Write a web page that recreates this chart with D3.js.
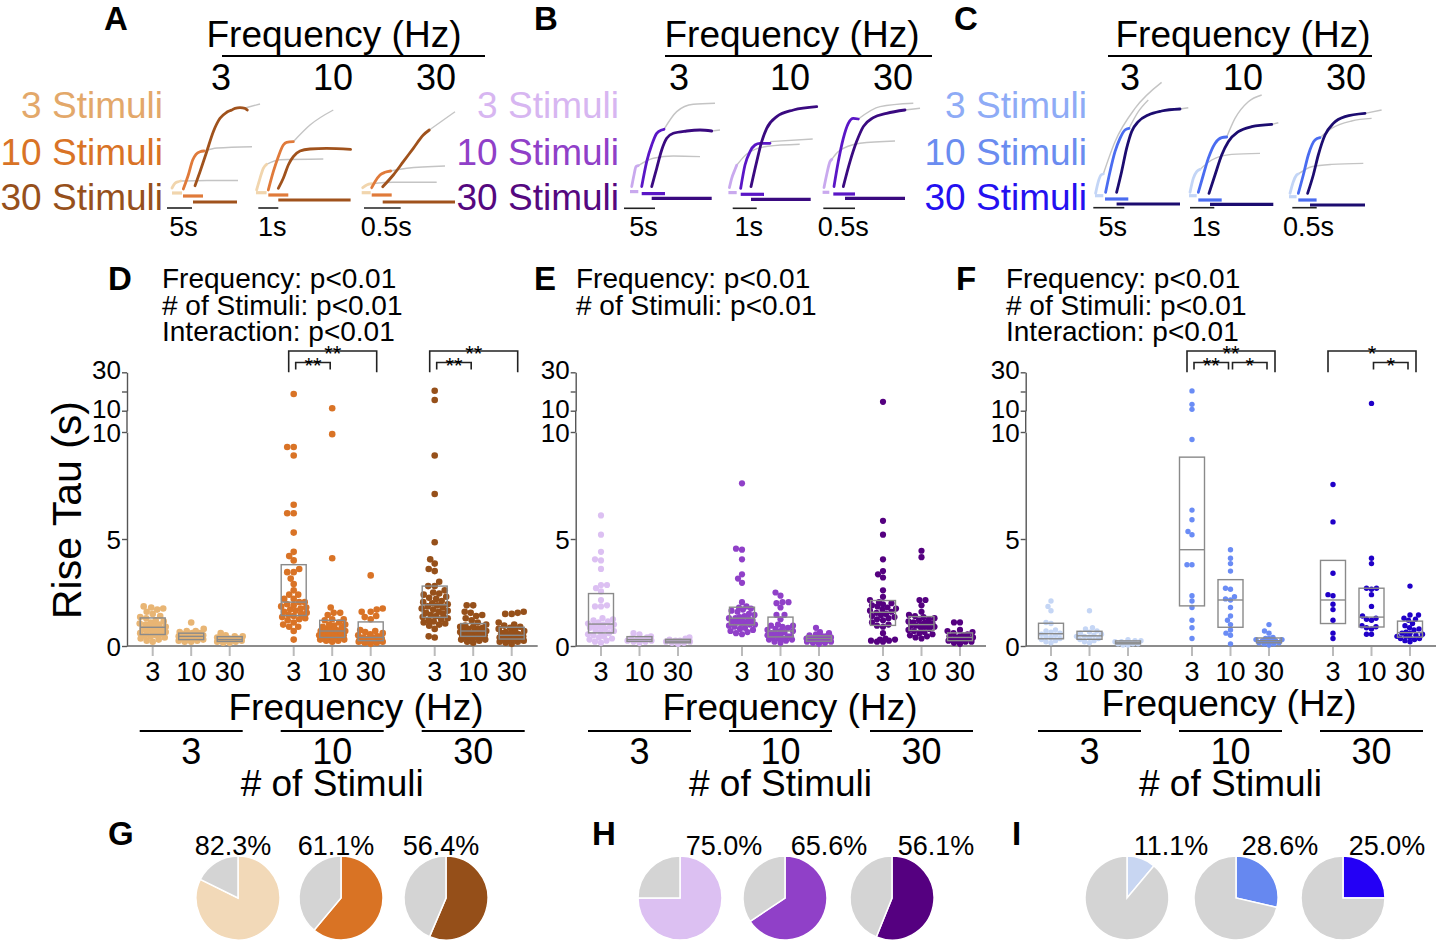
<!DOCTYPE html>
<html><head><meta charset="utf-8">
<script src="https://cdn.jsdelivr.net/npm/d3@7"></script>
<style>body{margin:0;background:#fff} svg{display:block} text{font-family:"Liberation Sans",Arial,sans-serif}</style>
</head><body><svg id="c" width="1438" height="942"></svg>
<script>
// ---------------- DATA ----------------
const stimuli = ["3","10","30"];
const freqs = ["3","10","30"];
const stimLabels = ["3 Stimuli","10 Stimuli","30 Stimuli"];
const scaleBarLabels = ["5s","1s","0.5s"];

// Example traces (time units, amplitude units), per frequency sub-panel, per stimulus count
const scaleLenA = [25, 20, 36.7];
const scaleLenB = [31, 24, 31.7];
const scaleLenC = [31, 24.3, 24.4];
const barsA = [
  [[5,15,15],[16,36,12],[26,70,6]],
  [[-2.3,8.3,15.3],[10,30,13],[20,92.3,8]],
  [[-2.3,6.7,15.3],[7.7,27.7,13],[18.7,91,6]]
];
const riseA = [
  [[[5,20],[8,24.7],[11.3,26.3],[13.7,27]],
   [[16.3,19],[21.3,33],[25.7,48],[29,53.7],[33,56.3],[37,57]],
   [[28,22.3],[33,36.3],[39.7,56.3],[46.3,76.3],[53,89.7],[59.7,95.7],[64.7,98],[68,99.7],[73,100.3],[78,99.7],[80.3,98]]],
  [[[-1.7,18],[1.7,29.7],[5,39.7],[8.3,43.7]],
   [[10,18],[15,36.3],[20,51.3],[25,63],[28.3,65.7],[35,66.3]],
   [[20,19.7],[25,29.7],[30,43],[35,51.3],[41.7,57],[51.7,59],[68.3,59.7],[92.3,58.7]]],
  [[[-1.3,20.3],[2.7,23],[7.7,24.3]],
   [[7.7,20.3],[11,26.3],[16,33],[21,35.7],[26.7,37]],
   [[18.7,21.3],[29.3,33],[39.3,46.3],[49.3,59.7],[59.3,73],[65.3,78]]]
];
const fitA = [
  [[[13.7,27],[40,27.5],[71,27.5]], [[37,57],[50,60],[85,61.3]], [[78,100],[93,104]]],
  [[[8.3,43.7],[21.7,48.3],[65,49]], [[35,66.3],[51.7,83],[75,98]], []],
  [[[7.7,24.3],[29.3,25.7],[72.7,25.7]], [[26.7,37],[42.7,39.7],[81,42]], [[65.3,78],[91,96.3]]]
];
const barsB = [
  [[6,14.3,16.7],[17.7,41,14.7],[27.7,87.7,10]],
  [[-4.3,4,15.7],[8,31.3,14],[18.3,78,9]],
  [[-0.7,6,16],[10,31.7,14.3],[21.7,81.7,10]]
];
const riseB = [
  [[[7.7,21.7],[10,33.3],[12,41.7],[14.3,42.7]],
   [[17.7,21.7],[22.7,46.7],[27.7,63.3],[32.7,75],[37.7,78.3],[40,79]],
   [[27.7,21.7],[32.7,40],[37.7,58.3],[42.7,70],[49.3,75],[62.7,77.3],[76,78.3],[87.7,77.3]]],
  [[[-3.3,20.7],[-1,30],[2,38],[4,43]],
   [[8,20],[12.3,43.3],[17.3,56.7],[22.3,63.3],[27.3,65],[37.3,65]],
   [[18.3,21.7],[24,46.7],[29,66.7],[34,80],[44,91.7],[60.7,98.3],[84,101.7]]],
  [[[0.7,20.7],[3.3,33.3],[6.7,46.7],[8.5,49]],
   [[10.7,21.7],[15,46.7],[20,70],[25,85],[30,90],[35,89.3]],
   [[20,21.7],[26.7,46.7],[33.3,66.7],[40,81.7],[50,90.7],[63.3,95],[81.7,98.3]]]
];
const fitB = [
  [[[14.3,42.7],[29.3,50],[49.3,52.3],[76,51.7]], [[40,79],[52.7,96.7],[69.3,104],[91,105]], [[87.7,77.3],[96,78.3]]],
  [[[4,43],[15,55],[35,62],[67,64]], [[37.3,66.7],[80,69.3]], []],
  [[[8.5,49],[15,56.7],[36.7,65],[71.7,67.3]], [[35,89.3],[56.7,101.7],[90,105]], [[81.7,98.3],[96.7,100]]]
];
const barsC = [
  [[1.7,10,12],[11.7,35,8.7],[23.3,86.7,3.7]],
  [[-1,6.7,12],[8.3,31.7,7.7],[20,83.3,3.3]],
  [[-3.3,4.3,11],[6,24.3,7.7],[17.7,72.7,2.7]]
];
const riseC = [
  [[[2.3,14.3],[5,26],[7.7,32.7],[10,33.7]],
   [[12.3,15.3],[16.7,36],[21.7,56],[26.7,69.3],[31.7,77.7],[35.7,79.3]],
   [[23.3,15.3],[28.3,36],[33.3,59.3],[38.3,76],[45,86],[55,92.7],[68.3,96.7],[86.7,98.7]]],
  [[[0,15.3],[3.3,29.3],[6.7,36],[10,38.3]],
   [[8.3,15.3],[13.3,32.7],[18.3,49.3],[25,64.3],[31.7,70],[36.7,70.7]],
   [[19,14.3],[25,32.7],[31.7,52.7],[38.3,66],[48.3,76],[61.7,81],[81.7,83.3]]],
  [[[-2.3,14.3],[1,26],[4.3,32.7],[6,33.7]],
   [[6,14.3],[11,32.7],[16,52.7],[22.7,67.7],[27.7,70]],
   [[15.3,14.3],[21,32.7],[26,52.7],[32.7,72.7],[41,84.3],[52.7,91],[72.7,94.3]]]
];
const fitC = [
  [[[10,33.7],[21.7,66],[41.7,99.3],[68.3,125.3]], [[35.7,79.3],[45,96],[55,107.7]], [[86.7,98.7],[95,100]]],
  [[[10,38.3],[21.7,47.7],[41.7,53.3],[70,54.3]], [[36.7,70.7],[45,89.3],[58.3,106],[71.7,112.7]], [[81.7,83.3],[88.3,85]]],
  [[[6,33.7],[19.3,41],[39.3,43.3],[71,44.3]], [[27.7,70],[39.3,79.3],[59.3,86.7],[79.3,89.3]], [[72.7,94.3],[89.3,97.7]]]
];

// Rise tau (s): [3 Hz, 10 Hz, 30 Hz] for each stimulus count
const tauD_stim3 = [
  [1.85,1.8,1.75,1.7,1.6,1.5,1.4,1.35,1.3,1.2,1.15,1.1,1.05,1.0,1.0,0.95,0.9,0.85,0.8,0.8,0.75,0.7,0.7,0.65,0.6,0.55,0.5,0.5,0.45,0.4,0.35,0.3,0.25,0.2],
  [1.1,0.8,0.7,0.7,0.65,0.6,0.6,0.55,0.5,0.5,0.45,0.45,0.4,0.4,0.4,0.35,0.35,0.3,0.3,0.25,0.25,0.2,0.2],
  [0.6,0.5,0.45,0.45,0.4,0.35,0.35,0.3,0.3,0.3,0.25,0.25,0.2,0.2,0.15,0.15]
];
const tauD_stim10 = [
  [18.7,9.3,9.3,8.9,6.6,6.2,6.2,5.3,4.4,4.2,4.0,3.6,3.45,3.45,3.15,2.9,2.6,2.4,2.4,2.2,2.2,2.05,2.05,1.95,1.9,1.85,1.8,1.75,1.7,1.65,1.6,1.55,1.5,1.45,1.4,1.35,1.3,1.25,1.2,1.1,1.0,0.9,0.9,0.7,0.3],
  [11.3,9.9,4.1,1.8,1.55,1.55,1.45,1.25,1.25,1.2,1.1,1.0,1.0,0.95,0.9,0.85,0.8,0.8,0.75,0.7,0.7,0.65,0.65,0.6,0.6,0.55,0.5,0.5,0.45,0.4,0.4,0.35,0.35,0.3,0.3,0.3,0.25,0.25,0.2],
  [3.3,1.75,1.7,1.6,1.6,1.4,1.35,1.25,0.75,0.7,0.65,0.6,0.55,0.5,0.45,0.4,0.4,0.35,0.35,0.3,0.3,0.3,0.3,0.25,0.25,0.25,0.2,0.2,0.2,0.15,0.15,0.1]
];
const tauD_stim30 = [
  [20.4,15.6,8.9,7.1,4.85,4.05,3.85,3.6,3.5,3.0,2.8,2.8,2.6,2.5,2.45,2.4,2.3,2.25,2.2,2.1,2.05,2.0,1.95,1.9,1.85,1.8,1.75,1.7,1.65,1.6,1.55,1.5,1.45,1.4,1.35,1.3,1.25,1.2,1.15,1.1,1.05,1.0,0.95,0.8,0.45,0.4],
  [1.9,1.9,1.6,1.55,1.45,1.4,1.3,1.2,1.1,1.0,0.95,0.9,0.9,0.85,0.8,0.8,0.75,0.7,0.7,0.65,0.65,0.6,0.6,0.55,0.55,0.5,0.5,0.45,0.45,0.4,0.4,0.35,0.3,0.3,0.25,0.2,0.15],
  [1.6,1.55,1.5,1.5,1.1,1.0,0.95,0.9,0.85,0.8,0.75,0.7,0.65,0.6,0.6,0.55,0.5,0.5,0.45,0.45,0.4,0.4,0.4,0.35,0.35,0.3,0.3,0.25,0.25,0.2,0.2,0.15,0.1]
];
const tauE_stim3 = [
  [6.1,5.2,4.4,4.05,4.0,3.6,2.85,2.85,2.7,2.55,2.15,1.9,1.85,1.85,1.3,1.25,1.2,1.15,1.1,1.05,1.0,1.0,0.95,0.9,0.9,0.85,0.8,0.75,0.7,0.65,0.6,0.55,0.5,0.45,0.4,0.35,0.3,0.25,0.2,0.15],
  [0.6,0.55,0.45,0.4,0.35,0.3,0.3,0.25,0.25,0.2,0.2,0.15],
  [0.4,0.35,0.3,0.25,0.25,0.2,0.2,0.15,0.15,0.1]
];
const tauE_stim10 = [
  [7.6,4.55,4.5,4.05,3.35,3.15,2.95,2.05,1.85,1.8,1.75,1.7,1.65,1.6,1.5,1.45,1.4,1.35,1.3,1.3,1.25,1.2,1.2,1.15,1.1,1.1,1.05,1.0,1.0,0.95,0.9,0.85,0.8,0.75,0.7,0.65,0.6,0.55],
  [2.5,2.35,2.05,2.05,2.0,1.8,1.45,1.45,1.25,1.0,0.95,0.95,0.9,0.85,0.8,0.75,0.7,0.7,0.65,0.6,0.55,0.5,0.5,0.45,0.45,0.4,0.35,0.35,0.3,0.3,0.25,0.2,0.15],
  [0.85,0.65,0.6,0.55,0.5,0.45,0.45,0.4,0.4,0.35,0.35,0.3,0.3,0.3,0.25,0.25,0.2,0.2,0.15,0.15,0.1]
];
const tauE_stim30 = [
  [14.6,5.85,5.2,4.05,3.5,3.35,3.2,2.6,2.3,2.15,2.05,2.0,1.95,1.9,1.85,1.8,1.75,1.7,1.65,1.6,1.55,1.5,1.45,1.4,1.35,1.3,1.25,1.2,1.1,1.0,0.95,0.9,0.6,0.35,0.3,0.3,0.25,0.25,0.2,0.2],
  [4.45,4.15,2.15,2.15,1.9,1.6,1.45,1.4,1.35,1.3,1.25,1.2,1.15,1.1,1.1,1.05,1.0,1.0,0.95,0.95,0.9,0.9,0.85,0.8,0.75,0.7,0.65,0.6,0.55,0.5,0.45,0.4,0.35],
  [1.1,1.1,0.75,0.7,0.65,0.6,0.55,0.5,0.45,0.45,0.4,0.4,0.35,0.35,0.3,0.3,0.25,0.25,0.2,0.2,0.15,0.1]
];
const tauF_stim3 = [
  [2.1,1.85,1.65,1.1,1.05,0.75,0.7,0.65,0.6,0.55,0.5,0.45,0.4,0.35,0.3,0.25,0.2,0.15],
  [1.65,0.85,0.8,0.7,0.65,0.6,0.55,0.5,0.45,0.45,0.4,0.35,0.3,0.25,0.2,0.15],
  [0.3,0.25,0.25,0.2,0.2,0.15,0.15,0.1,0.1,0.1,0.05,0.05]
];
const tauF_stim10 = [
  [20.3,13.3,10.7,9.65,6.35,5.9,5.35,5.2,3.8,3.8,2.35,2.1,1.8,1.2,0.85,0.35],
  [4.5,4.1,3.85,3.5,2.7,2.65,2.3,2.2,2.15,1.8,1.4,1.2,1.0,0.75,0.6,0.5,0.1],
  [1.0,0.7,0.6,0.4,0.35,0.35,0.3,0.3,0.25,0.25,0.2,0.2,0.15,0.15,0.1,0.1,0.05]
];
const tauF_stim30 = [
  [7.55,5.8,3.4,2.4,2.35,1.95,1.7,1.2,0.6,0.35],
  [13.8,4.1,3.85,2.7,2.7,2.65,2.4,1.85,1.4,1.3,1.25,1.2,0.95,0.9,0.85,0.8,0.55,0.55],
  [2.8,1.45,1.45,1.3,1.25,1.2,1.05,0.95,0.85,0.8,0.75,0.65,0.6,0.6,0.55,0.5,0.45,0.45,0.4,0.35,0.35,0.3,0.25,0.2]
];
const statsD = ["Frequency: p<0.01","# of Stimuli: p<0.01","Interaction: p<0.01"];
const statsE = ["Frequency: p<0.01","# of Stimuli: p<0.01"];
const statsF = ["Frequency: p<0.01","# of Stimuli: p<0.01","Interaction: p<0.01"];
// significance brackets: [stimulus group, from freq, to freq, level (0 = upper), label]
const sigD = [["10","3","30",0,"**"],["10","3","10",1,"**"],["30","3","30",0,"**"],["30","3","10",1,"**"]];
const sigE = [];
const sigF = [["10","3","30",0,"**"],["10","3","10",1,"**"],["10","10","30",1,"*"],["30","3","30",0,"*"],["30","10","30",1,"*"]];

// Percent of responders
const pctG = [82.3, 61.1, 56.4];
const pctH = [75.0, 65.6, 56.1];
const pctI = [11.1, 28.6, 25.0];

// colours
const traceColorsA = ["#f1d5ad","#e07a3a","#a0521c"];
const traceColorsB = ["#c9a9ee","#5a16c6","#3a0a80"];
const traceColorsC = ["#c3d5f6","#4a6cf0","#1c0c70"];
const labelColorsA = ["#e3a86a","#d97326","#96501c"];
const labelColorsB = ["#d7b6f1","#9040c8","#55087f"];
const labelColorsC = ["#8eabf6","#6a8cf0","#2410f0"];
const dotColorsD = ["#e8b574","#d97326","#96501a"];
const dotColorsE = ["#dcc0f2","#9040c8","#550080"];
const dotColorsF = ["#c5d6f5","#6a8cf5","#2000c8"];
const pieColorsG = ["#f2d9b8","#d97324","#954f19"];
const pieColorsH = ["#dcc0f2","#9040c8","#550080"];
const pieColorsI = ["#c8d6f2","#6688f0","#2400f5"];

// ---------------- DRAW ----------------
const svg = d3.select("#c");
const FONT = 36;

function txt(g, x, y, s, size, anchor, extra) {
  const t = g.append("text").attr("x", x).attr("y", y).attr("font-size", size)
    .attr("text-anchor", anchor || "start").text(s);
  if (extra) Object.entries(extra).forEach(([k, v]) => t.attr(k, v));
  return t;
}

const topPanels = [
  {letter:"A", letterX:104, headX:334, line:[222,485], freqX:[221,333,436], labelRight:163,
   ox:[167,258.3,364], oy:208, bars:barsA, rise:riseA, fit:fitA, scaleLen:scaleLenA,
   traceColors:traceColorsA, labelColors:labelColorsA},
  {letter:"B", letterX:534, headX:792, line:[665,932], freqX:[679,790,893], labelRight:619,
   ox:[624,732.7,823.3], oy:208.3, bars:barsB, rise:riseB, fit:fitB, scaleLen:scaleLenB,
   traceColors:traceColorsB, labelColors:labelColorsB},
  {letter:"C", letterX:954, headX:1243, line:[1108,1372], freqX:[1130,1243,1346], labelRight:1087,
   ox:[1093.3,1190,1292.3], oy:207.7, bars:barsC, rise:riseC, fit:fitC, scaleLen:scaleLenC,
   traceColors:traceColorsC, labelColors:labelColorsC}
];

topPanels.forEach(p => {
  const g = svg.append("g");
  txt(g, p.letterX, 30, p.letter, 33, "start", {"font-weight":"bold"});
  txt(g, p.headX, 47, "Frequency (Hz)", 37, "middle");
  g.append("line").attr("x1", p.line[0]).attr("x2", p.line[1]).attr("y1", 56).attr("y2", 56)
    .attr("stroke", "#000").attr("stroke-width", 2);
  freqs.forEach((f, i) => txt(g, p.freqX[i], 90, f, FONT, "middle"));
  stimLabels.forEach((s, i) => txt(g, p.labelRight, [118,165,210][i], s, 37, "end", {fill: p.labelColors[i]}));
  for (let j = 0; j < 3; j++) {
    const x = d3.scaleLinear().domain([0, 100]).range([p.ox[j], p.ox[j] + 100]);
    const y = d3.scaleLinear().domain([0, 100]).range([p.oy, p.oy - 100]);
    const line = d3.line().x(d => x(d[0])).y(d => y(d[1])).curve(d3.curveMonotoneX);
    p.fit[j].forEach(f => { if (f.length) g.append("path").attr("d", line(f)).attr("fill", "none")
      .attr("stroke", "#c4c4c4").attr("stroke-width", 1.4); });
    p.bars[j].forEach((b, k) => g.append("line").attr("x1", x(b[0])).attr("x2", x(b[1]))
      .attr("y1", y(b[2])).attr("y2", y(b[2])).attr("stroke", p.traceColors[k]).attr("stroke-width", 3.2));
    p.rise[j].forEach((r, k) => g.append("path").attr("d", line(r)).attr("fill", "none")
      .attr("stroke", p.traceColors[k]).attr("stroke-width", 2.8).attr("stroke-linecap", "round"));
    g.append("line").attr("x1", x(0)).attr("x2", x(p.scaleLen[j])).attr("y1", y(0)).attr("y2", y(0))
      .attr("stroke", "#222").attr("stroke-width", 1.6);
    txt(g, (x(0) + x(p.scaleLen[j])) / 2 + 4, 236, scaleBarLabels[j], 27, "middle");
  }
});

// ---- scatter panels ----
const yLo = d3.scaleLinear().domain([0, 10]).range([646, 432]);
const yHi = d3.scaleLinear().domain([10, 30]).range([410.7, 372.3]);
const yv = v => v <= 10 ? yLo(v) : yHi(v);

function gpQuantile(asc, p) {
  const n = asc.length, pos = (n + 1) * p;
  if (pos <= 1) return asc[0];
  if (pos >= n) return asc[n - 1];
  const lo = Math.floor(pos);
  return asc[lo - 1] + (pos - lo) * (asc[lo] - asc[lo - 1]);
}
// bounded beeswarm: points spread at most maxW px from the column centre
function swarm(vals, cx, r, maxW) {
  const pts = vals.map(v => ({v, y: yv(v)})).sort((a, b) => b.y - a.y);
  const placed = [], dmin = 2 * r * 0.92;
  pts.forEach(p => {
    let best = null, bestD = -1;
    for (let k = 0; k <= maxW * 4; k++) {
      const dx = (k % 2 === 0 ? 1 : -1) * Math.ceil(k / 2) * 0.5;
      const xx = cx + dx;
      let md = Infinity;
      placed.forEach(q => { const d = Math.hypot(q.x - xx, q.y - p.y); if (d < md) md = d; });
      if (md >= dmin) { best = xx; bestD = Infinity; break; }
      if (md > bestD + 0.3) { bestD = md; best = xx; }
    }
    p.x = best; placed.push(p);
  });
  return placed;
}

const scatterPanels = [
  {letter:"D", letterX:108, axisX:127, c0:152.7, stats:statsD, statsX:162, freqLabelX:356, freqLabelY:720,
   r:3.3, data:[tauD_stim3, tauD_stim10, tauD_stim30], colors:dotColorsD, sig:sigD},
  {letter:"E", letterX:534, axisX:575.7, c0:601, stats:statsE, statsX:576, freqLabelX:790, freqLabelY:720,
   r:3.1, data:[tauE_stim3, tauE_stim10, tauE_stim30], colors:dotColorsE, sig:sigE},
  {letter:"F", letterX:956, axisX:1025.7, c0:1051, stats:statsF, statsX:1006, freqLabelX:1229, freqLabelY:716,
   r:2.7, data:[tauF_stim3, tauF_stim10, tauF_stim30], colors:dotColorsF, sig:sigF}
];

scatterPanels.forEach(p => {
  const g = svg.append("g");
  const xo = d3.scalePoint().domain(stimuli).range([p.c0, p.c0 + 282]);
  const xi = d3.scalePoint().domain(freqs).range([0, 77]);
  const cx = (s, f) => xo(s) + xi(f);
  txt(g, p.letterX, 290, p.letter, 33, "start", {"font-weight":"bold"});
  p.stats.forEach((s, i) => txt(g, p.statsX, 288 + i * 26.5, s, 28));

  // y axis (broken)
  const axLo = g.append("g").attr("transform", `translate(${p.axisX},0)`)
    .call(d3.axisLeft(yLo).tickValues([0, 5, 10]).tickSize(5).tickSizeOuter(0).tickPadding(1));
  const axHi = g.append("g").attr("transform", `translate(${p.axisX},0)`)
    .call(d3.axisLeft(yHi).tickValues([10, 20, 30]).tickSize(5).tickSizeOuter(0).tickPadding(1)
      .tickFormat(d => d === 20 ? "" : d));
  [axLo, axHi].forEach(a => {
    a.selectAll("text").attr("font-size", 26).attr("font-family", '"Liberation Sans",Arial,sans-serif').attr("fill", "#000");
    a.selectAll("line,path").attr("stroke", "#555").attr("stroke-width", 1.4);
  });
  axHi.selectAll(".tick text").attr("dy", "0.25em");
  axLo.selectAll(".tick text").attr("dy", "0.36em");
  g.append("line").attr("x1", p.axisX).attr("x2", p.axisX).attr("y1", yLo(10)).attr("y2", yHi(10))
    .attr("stroke", "#555").attr("stroke-width", 1.4);

  // x axis
  g.append("line").attr("x1", p.axisX).attr("x2", p.c0 + 282 + 77 + 26).attr("y1", yLo(0)).attr("y2", yLo(0))
    .attr("stroke", "#666").attr("stroke-width", 1.5);

  stimuli.forEach((s, si) => {
    freqs.forEach((f, fi) => {
      const x = cx(s, f);
      g.append("line").attr("x1", x).attr("x2", x).attr("y1", yLo(0) + 1).attr("y2", yLo(0) + 10)
        .attr("stroke", "#bbb").attr("stroke-width", 2);
      txt(g, x, 681, f, 27, "middle");
      const vals = p.data[si][fi];
      const pts = swarm(vals, x, p.r, 13);
      g.selectAll(null).data(pts).join("circle").attr("cx", d => d.x).attr("cy", d => d.y)
        .attr("r", p.r).attr("fill", p.colors[si]);
      const asc = vals.slice().sort((a, b) => a - b);
      const q1 = gpQuantile(asc, 0.25), q2 = gpQuantile(asc, 0.5), q3 = gpQuantile(asc, 0.75);
      g.append("rect").attr("x", x - 12.5).attr("width", 25).attr("y", yv(q3)).attr("height", yv(q1) - yv(q3))
        .attr("fill", "none").attr("stroke", "#8a8a8a").attr("stroke-width", 1.4);
      g.append("line").attr("x1", x - 12.5).attr("x2", x + 12.5).attr("y1", yv(q2)).attr("y2", yv(q2))
        .attr("stroke", "#8a8a8a").attr("stroke-width", 1.4);
    });
    const mid = xo(s) + 38.5;
    g.append("line").attr("x1", mid - 51.5).attr("x2", mid + 51.5).attr("y1", 731).attr("y2", 731)
      .attr("stroke", "#000").attr("stroke-width", 2);
    txt(g, mid, 764, s, FONT, "middle");
  });
  txt(g, p.freqLabelX, p.freqLabelY, "Frequency (Hz)", 37, "middle");
  txt(g, xo("10") + 38.5, 796, "# of Stimuli", 37, "middle");

  // significance brackets
  p.sig.forEach(([s, f1, f2, lvl, lab]) => {
    const big = lvl === 0;
    const x1 = cx(s, f1) + (big ? -5 : 2), x2 = cx(s, f2) + (big ? 6 : -2);
    const top = big ? 351 : 362.5, bot = big ? 372.3 : 369.5;
    g.append("path").attr("d", `M${x1},${bot}V${top}H${x2}V${bot}`).attr("fill", "none")
      .attr("stroke", "#222").attr("stroke-width", 1.6);
    txt(g, (x1 + x2) / 2, top + 10, lab, 22, "middle");
  });
});

// y label
txt(svg, 0, 0, "Rise Tau (s)", 41, "middle", {transform: "translate(81,510) rotate(-90)"});

// ---- pies ----
const pieGroups = [
  {letter:"G", letterX:108, cx:[238,341,446], pct:pctG, colors:pieColorsG, labelDx:-5},
  {letter:"H", letterX:592, cx:[680,785,892], pct:pctH, colors:pieColorsH, labelDx:44},
  {letter:"I", letterX:1012, cx:[1127,1236,1343], pct:pctI, colors:pieColorsI, labelDx:44}
];
const pie = d3.pie().sort(null).value(d => d);
const arc = d3.arc().innerRadius(0).outerRadius(42);
pieGroups.forEach(p => {
  const g = svg.append("g");
  txt(g, p.letterX, 845, p.letter, 33, "start", {"font-weight":"bold"});
  p.pct.forEach((v, i) => {
    const pg = g.append("g").attr("transform", `translate(${p.cx[i]},898)`);
    pg.selectAll("path").data(pie([v, 100 - v])).join("path").attr("d", arc)
      .attr("fill", (d, k) => k === 0 ? p.colors[i] : "#d4d4d4")
      .attr("stroke", "#fff").attr("stroke-width", 1.5);
    txt(g, p.cx[i] + p.labelDx, 855, v.toFixed(1) + "%", 27, "middle");
  });
});
</script></body></html>
